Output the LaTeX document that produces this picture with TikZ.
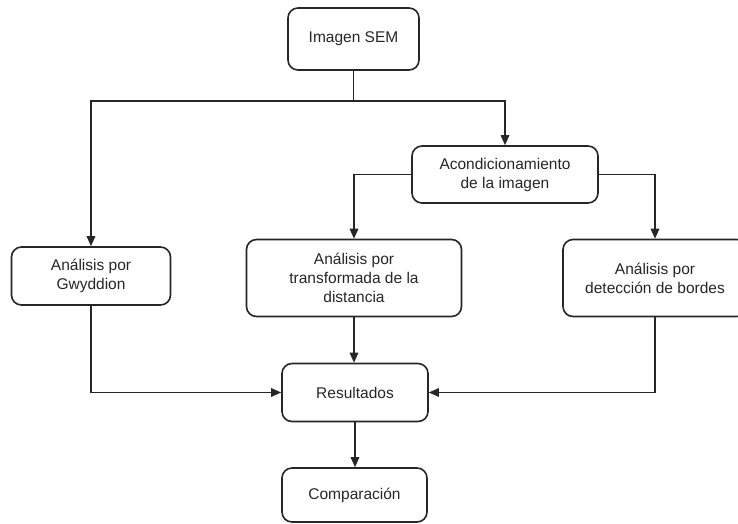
\documentclass[tikz,border=0pt]{standalone}
\usepackage{fontspec}
\setmainfont{Liberation Sans}
\usetikzlibrary{arrows.meta}
\begin{document}
\begin{tikzpicture}[x=1pt,y=-1pt,
  box/.style={draw=black!85, line width=1.6pt, rounded corners=10pt, align=center,
    font=\fontsize{15.5}{19}\selectfont, text=black!85, inner sep=0pt},
  arr/.style={draw=black!85, line width=1.6pt, -{Triangle[length=10pt,width=8.5pt]}},
  ln/.style={draw=black!85, line width=1.6pt}]
\useasboundingbox (0,0) rectangle (738,523);
\clip (0,0) rectangle (738,523);
\node[box, minimum width=131pt, minimum height=62pt] (sem) at (353.5,39) {Imagen SEM};
\node[box, minimum width=186pt, minimum height=57pt] (acond) at (505,174.5) {Acondicionamiento\\de la imagen};
\node[box, minimum width=159pt, minimum height=58pt] (gwy) at (91,276) {Análisis por\\Gwyddion};
\node[box, minimum width=215pt, minimum height=77pt] (trans) at (354,278) {Análisis por\\transformada de la\\distancia};
\node[box, minimum width=184pt, minimum height=77pt] (bord) at (655,278) {Análisis por\\detección de bordes};
\node[box, minimum width=146pt, minimum height=58pt] (res) at (355,392.5) {Resultados};
\node[box, minimum width=145pt, minimum height=54pt] (comp) at (354.5,495) {Comparación};
\coordinate (j) at (353.5,101);
\draw[ln] (sem.south) -- (j);
\draw[arr] (j) -| (gwy.north);
\draw[arr] (j) -| (acond.north);
\draw[arr] (acond.west) -| (trans.north);
\draw[arr] (acond.east) -| (bord.north);
\draw[arr] (gwy.south) |- (res.west);
\draw[arr] (trans.south) -- (trans.south |- res.north);
\draw[arr] (bord.south) |- (res.east);
\draw[arr] (res.south) -- (res.south |- comp.north);
\end{tikzpicture}
\end{document}
